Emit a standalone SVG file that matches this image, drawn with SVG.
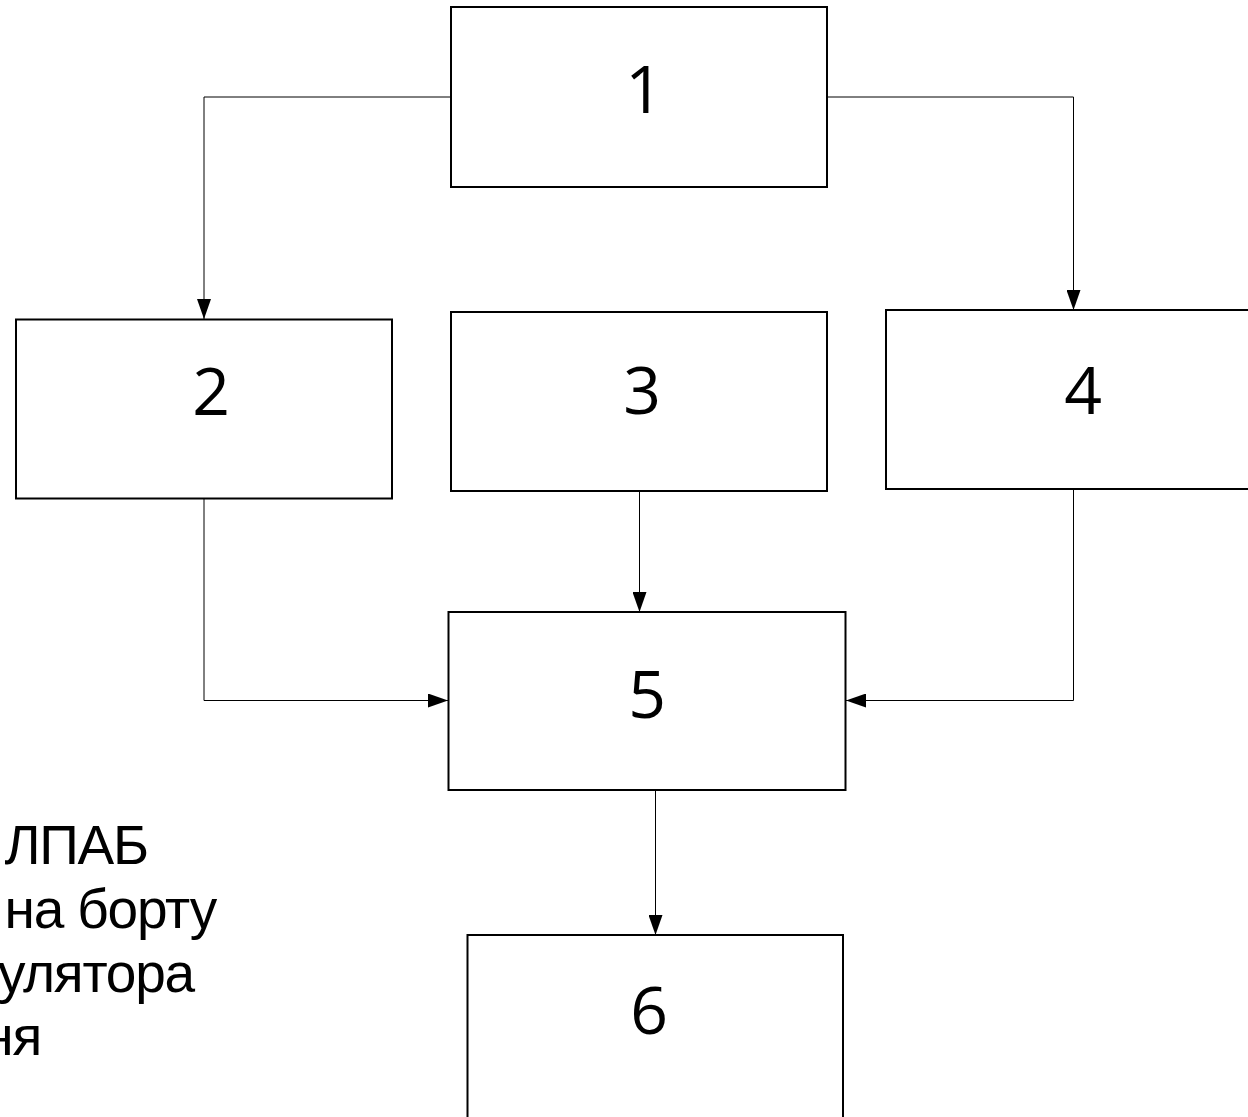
<svg xmlns="http://www.w3.org/2000/svg" width="1248" height="1117" viewBox="0 0 1248 1117">
  <style>
    .box { fill: #fff; stroke: #000; stroke-width: 2; }
    .num { font-family: "Open Sans", "Noto Sans", sans-serif; font-size: 66px; fill: #000; text-anchor: middle; }
    .wire { fill: none; stroke: #000; stroke-width: 1; }
    .legend { font-family: "Liberation Sans", Arial, sans-serif; font-size: 55px; letter-spacing: -1.2px; fill: #000; text-anchor: end; }
  </style>
  <defs>
    <marker id="arrow" viewBox="0 0 20 14" refX="20" refY="7" markerWidth="20" markerHeight="14" markerUnits="userSpaceOnUse" orient="auto">
      <path d="M0,0 L20,7 L0,14 Z" fill="#000"/>
    </marker>
  </defs>
  <rect width="1248" height="1117" fill="#fff"/>

  <g id="connectors">
    <path class="wire" d="M451,97 H204 V319" marker-end="url(#arrow)"/>
    <path class="wire" d="M827,97 H1073.5 V310" marker-end="url(#arrow)"/>
    <path class="wire" d="M204,499 V700.5 H448" marker-end="url(#arrow)"/>
    <path class="wire" d="M639.5,491 V612" marker-end="url(#arrow)"/>
    <path class="wire" d="M1073.5,489 V700.5 H846" marker-end="url(#arrow)"/>
    <path class="wire" d="M655.5,790 V935" marker-end="url(#arrow)"/>
  </g>

  <g id="node1">
    <rect class="box" x="451" y="7" width="376" height="180"/>
    <text class="num" x="644" y="113">1</text>
  </g>
  <g id="node2">
    <rect class="box" x="16" y="319.5" width="376" height="179"/>
    <text class="num" x="211" y="415">2</text>
  </g>
  <g id="node3">
    <rect class="box" x="451" y="312" width="376" height="179"/>
    <text class="num" x="642" y="414">3</text>
  </g>
  <g id="node4">
    <rect class="box" x="886" y="310" width="380" height="179"/>
    <text class="num" x="1083" y="414">4</text>
  </g>
  <g id="node5">
    <rect class="box" x="448.5" y="612" width="397" height="178"/>
    <text class="num" x="647" y="718">5</text>
  </g>
  <g id="node6">
    <rect class="box" x="467.5" y="935" width="375.5" height="190"/>
    <text class="num" x="649" y="1034">6</text>
  </g>

  <!-- legend lines run off the left edge of the sheet -->
  <g id="legend">
    <text class="legend" x="148" y="864">ЛПАБ</text>
    <text class="legend" x="216" y="928">на борту</text>
    <text class="legend" x="194" y="992">улятора</text>
    <text class="legend" x="41" y="1055">ня</text>
  </g>
</svg>
